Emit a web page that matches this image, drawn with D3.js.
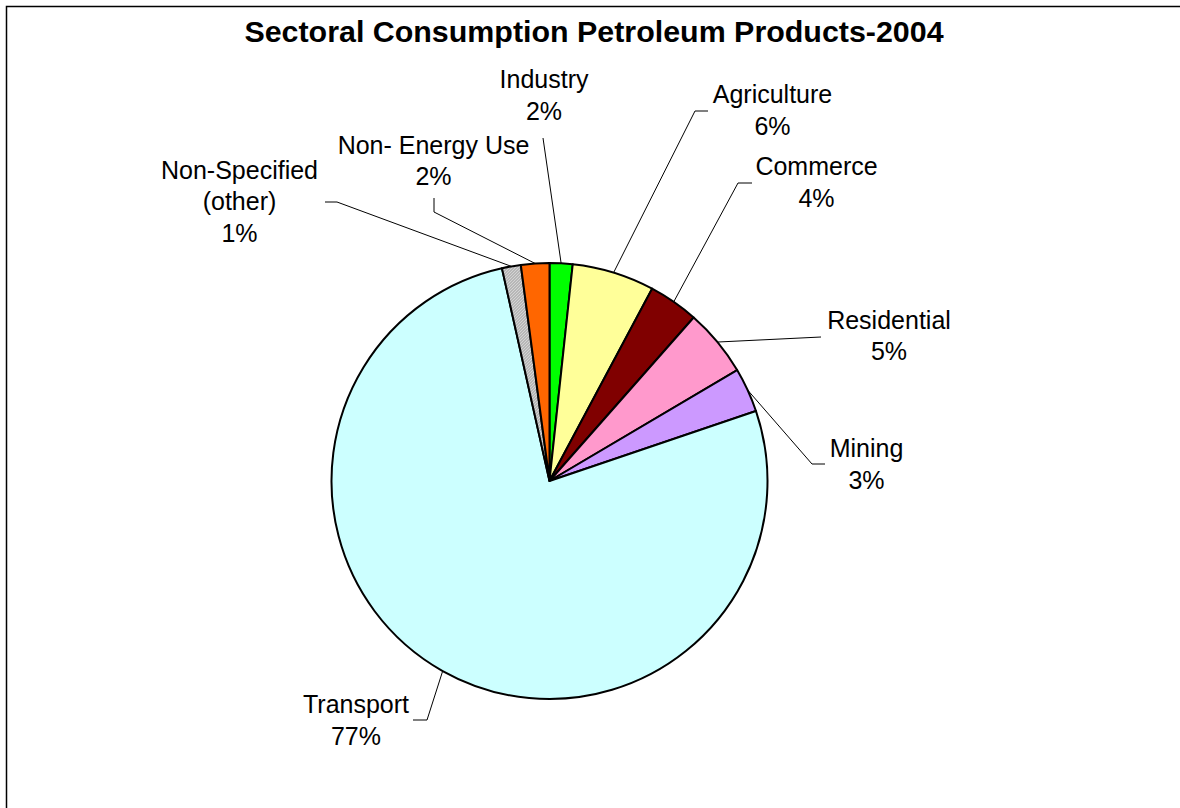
<!DOCTYPE html>
<html>
<head>
<meta charset="utf-8">
<script src="https://cdn.jsdelivr.net/npm/d3@7"></script>
<style>
  html, body { margin: 0; padding: 0; background: #fff; }
  svg { display: block; font-family: "Liberation Sans", Arial, sans-serif; }
</style>
</head>
<body>
<svg id="chart" width="1180" height="808"></svg>
<script>
// ---- data ----
const title = "Sectoral Consumption Petroleum Products-2004";
const categories = ["Industry", "Agriculture", "Commerce", "Residential", "Mining", "Transport", "Non-Specified (other)", "Non- Energy Use"];
const labelLines = [["Industry"], ["Agriculture"], ["Commerce"], ["Residential"], ["Mining"], ["Transport"], ["Non-Specified", "(other)"], ["Non- Energy Use"]];
const values = [1.7, 6.1, 3.7, 5.0, 3.3, 76.7, 1.4, 2.1];
const colors = ["#00ff00", "#ffff99", "#800000", "#ff99cc", "#cc99ff", "#ccffff", "url(#hatch)", "#ff6600"];

// ---- layout (label placement, leader elbows) ----
const labelPos = [
  { x: 544, y: 88,  elbow: [543, 138], end: [543, 138] },
  { x: 772.5, y: 103, elbow: [695, 111], end: [708, 111] },
  { x: 816.5, y: 175, elbow: [738, 183], end: [752, 183] },
  { x: 889, y: 328.5, elbow: [821, 337], end: [821, 337] },
  { x: 866.5, y: 457, elbow: [812, 464], end: [825, 464] },
  { x: 356, y: 713, elbow: [427, 720], end: [413, 720] },
  { x: 239.5, y: 178.5, elbow: [337, 202], end: [325, 202] },
  { x: 433.5, y: 153.5, elbow: [434, 212], end: [434, 198] }
];
const cx = 549.5, cy = 481, R = 218, lineH = 31.8;

const svg = d3.select("#chart");

// hatch pattern
const defs = svg.append("defs");
const pat = defs.append("pattern").attr("id", "hatch").attr("patternUnits", "userSpaceOnUse")
  .attr("width", 3).attr("height", 3);
pat.append("rect").attr("width", 3).attr("height", 3).attr("fill", "#d4d4d4");
pat.append("path").attr("d", "M0,3 L3,0").attr("stroke", "#8c8c8c").attr("stroke-width", 0.8);

// outer frame
svg.append("rect").attr("x", 6.5).attr("y", 6.5).attr("width", 1300).attr("height", 900)
  .attr("fill", "none").attr("stroke", "#000").attr("stroke-width", 1.5);

// title
svg.append("text").attr("x", 594).attr("y", 41.5).attr("text-anchor", "middle")
  .attr("font-size", 30.4).attr("font-weight", "bold").attr("fill", "#000").text(title);

const total = d3.sum(values);
const pie = d3.pie().sort(null).value(d => d).startAngle(0).endAngle(2 * Math.PI);
const arcs = pie(values);
const arc = d3.arc().innerRadius(0).outerRadius(R);
const edgeArc = d3.arc().innerRadius(R).outerRadius(R);

const g = svg.append("g").attr("transform", `translate(${cx},${cy})`);
g.selectAll("path.slice").data(arcs).join("path")
  .attr("class", "slice")
  .attr("d", arc)
  .attr("fill", (d, i) => colors[i])
  .attr("stroke", "#000").attr("stroke-width", 2).attr("stroke-linejoin", "round");

// leader lines
svg.selectAll("path.leader").data(arcs).join("path")
  .attr("class", "leader")
  .attr("d", (d, i) => {
    const c = edgeArc.centroid(d);
    const p = labelPos[i];
    return d3.line()([[cx + c[0], cy + c[1]], p.elbow, p.end]);
  })
  .attr("fill", "none").attr("stroke", "#000").attr("stroke-width", 1);

// labels
const lab = svg.selectAll("text.lab").data(arcs).join("text")
  .attr("class", "lab")
  .attr("text-anchor", "middle").attr("font-size", 25).attr("fill", "#000");
lab.each(function (d, i) {
  const t = d3.select(this);
  const lines = labelLines[i].concat([Math.round(values[i] / total * 100) + "%"]);
  lines.forEach((s, k) => {
    t.append("tspan").attr("x", labelPos[i].x).attr("y", labelPos[i].y + k * lineH).text(s);
  });
});
</script>
</body>
</html>
